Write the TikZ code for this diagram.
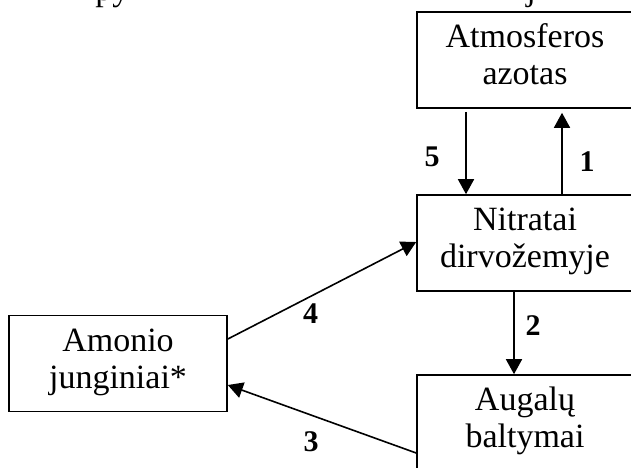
\documentclass[tikz,border=0pt]{standalone}
\usepackage{fontspec}
\setmainfont{Liberation Serif}
\usetikzlibrary{arrows.meta}

% same height and depth for every line of a box
\newcommand{\lstrut}{\rule[-6pt]{0pt}{18pt}}

\begin{document}
\begin{tikzpicture}[x=0.5pt, y=-0.5pt, font=\fontsize{17}{18.5}\selectfont,
    box/.style={draw, line width=0.8pt, align=center, minimum width=108pt, minimum height=48pt, inner sep=0pt},
    arr/.style={line width=0.8pt, -{Triangle[length=7.5pt,width=8pt]}},
    num/.style={font=\fontsize{15}{15}\selectfont\bfseries}]
    \clip (0,0) rectangle (631,467);

    % cut-off line above the picture
    \node[anchor=base west, inner sep=0pt] (cuta) at (95,0) {py};
    \node[anchor=base west, inner sep=0pt] (cutb) at (526,0) {j};

    % Boxes
    \node[box] (atmos) at (525,60) {\lstrut Atmosferos\\\lstrut azotas};
    \node[box] (nitr) at (525,243) {\lstrut Nitratai\\\lstrut dirvožemyje};
    \node[box] (augal) at (525,423) {\lstrut Augalų\\\lstrut baltymai};
    \node[box, minimum width=109pt] (amon) at (118,363.5) {\lstrut Amonio\\\lstrut junginiai*};

    % Arrows
    \draw[arr, shorten <=1.5pt] ([xshift=-29.5pt]atmos.south) -- ([xshift=-29.5pt]nitr.north);
    \draw[arr, shorten >=2pt] ([xshift=18.5pt]nitr.north) -- ([xshift=18.5pt]atmos.south);
    \draw[arr] ([xshift=-5.5pt]nitr.south) -- ([xshift=-5.5pt]augal.north);
    \draw[arr] ([yshift=-15pt]augal.west) -- ([yshift=-10.75pt]amon.east);
    \draw[arr] ([yshift=12.25pt]amon.east) -- ([yshift=0.5pt]nitr.west);

    % Numbers
    \node[num] (n5) at (432,157) {5};
    \node[num] (n1) at (587,162) {1};
    \node[num] (n2) at (533,325.5) {2};
    \node[num] (n4) at (310.5,314) {4};
    \node[num] (n3) at (311,442) {3};
\end{tikzpicture}
\end{document}
